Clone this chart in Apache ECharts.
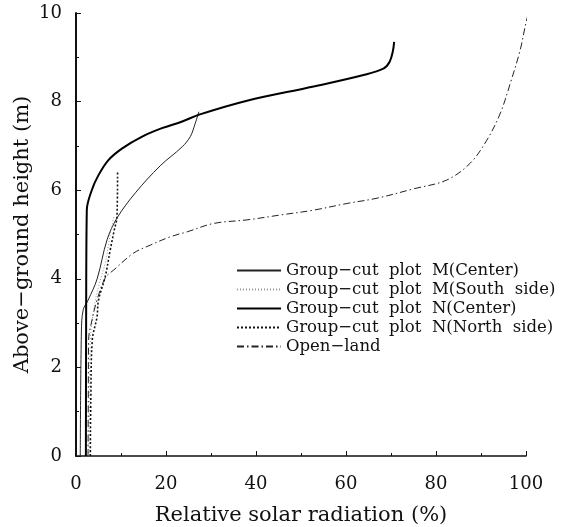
<!DOCTYPE html>
<html>
<head>
<meta charset="utf-8">
<script src="https://cdn.jsdelivr.net/npm/echarts@6/dist/echarts.min.js"></script>
<style>
  html, body { margin: 0; padding: 0; background: #fff; }
  #chart { width: 566px; height: 527px; }
</style>
</head>
<body>
<div id="chart"></div>
<script>
// Relative solar radiation (%) versus above-ground height (m), pairs of [radiation, height]
const mCenter = [
  [0.95, 0], [1.2, 2.8], [1.6, 3.3], [2.7, 3.52], [4.7, 4.0], [6.9, 4.88],
  [9.1, 5.37], [13.2, 5.94], [18.7, 6.55], [23.6, 6.98],
  [25.4, 7.21], [26.5, 7.51], [27.3, 7.77]
];
const mSouth = [
  [2.84, 0], [2.96, 1.26], [3.18, 2.62], [3.62, 3.07], [4.3, 3.52],
  [5.4, 3.97], [6.5, 4.36], [7.6, 4.99], [8.4, 5.4]
];
const nCenter = [
  [2.2, 0], [2.25, 3.0], [2.4, 5.55], [3.5, 6.0], [5.0, 6.34], [7.2, 6.68],
  [10.2, 6.94], [14.7, 7.21], [19.1, 7.4], [23.6, 7.55], [27.2, 7.7],
  [38.0, 8.02], [52.8, 8.34], [63.9, 8.6], [68.4, 8.75], [69.7, 8.9],
  [70.4, 9.13], [70.7, 9.35]
];
const nNorth = [
  [3.18, 0], [3.29, 1.26], [3.62, 2.62], [4.67, 3.14], [5.0, 3.52],
  [6.5, 4.05], [7.6, 4.65], [8.5, 5.1], [9.1, 5.4], [9.24, 6.42]
];
const openLand = [
  [2.67, 0], [2.73, 1.26], [2.8, 2.62], [3.56, 3.07], [4.67, 3.52],
  [6.5, 4.02], [8.4, 4.2], [12.8, 4.58], [16.5, 4.76], [21.0, 4.95],
  [24.7, 5.06], [30.6, 5.25], [38.0, 5.33], [45.4, 5.44], [52.8, 5.55],
  [60.2, 5.7], [66.9, 5.82], [75.0, 6.03], [82.4, 6.23], [87.6, 6.61],
  [91.3, 7.13], [94.3, 7.74], [96.5, 8.41], [98.7, 9.16], [99.8, 9.69],
  [100.5, 9.99]
];

const seriesNames = [
  'Group−cut  plot  M(Center)',
  'Group−cut  plot  M(South  side)',
  'Group−cut  plot  N(Center)',
  'Group−cut  plot  N(North  side)',
  'Open−land'
];

const serif = '"DejaVu Serif", "Liberation Serif", serif';
const ink = '#111';

function curve(name, data, style) {
  return {
    name: name,
    type: 'line',
    data: data,
    symbol: 'none',
    smooth: 0.35,
    itemStyle: { color: style.color },
    lineStyle: style,
    z: 3
  };
}

const chart = echarts.init(document.getElementById('chart'), null, { renderer: 'canvas' });
chart.setOption({
  animation: false,
  backgroundColor: '#fff',
  grid: { left: 76, right: 40, top: 13, bottom: 71, containLabel: false, outerBoundsMode: 'none' },
  legend: {
    orient: 'vertical',
    left: 231,
    top: 257,
    itemWidth: 44,
    itemHeight: 10,
    itemGap: 2,
    itemStyle: { opacity: 0 },
    textStyle: { fontFamily: serif, fontSize: 16.5, color: ink, lineHeight: 16 },
    data: seriesNames
  },
  xAxis: {
    type: 'value',
    min: 0, max: 100, interval: 20,
    offset: 12,
    name: 'Relative solar radiation (%)',
    nameLocation: 'middle',
    nameGap: 37,
    nameTextStyle: { fontFamily: serif, fontSize: 21, color: ink },
    axisLine: { show: true, lineStyle: { color: ink, width: 1.5 } },
    axisTick: { show: true, inside: true, length: 5, lineStyle: { color: ink, width: 1 } },
    minorTick: { show: true, splitNumber: 2, length: 3, lineStyle: { color: ink, width: 1 } },
    axisLabel: { margin: 7, fontFamily: serif, fontSize: 18, color: ink },
    splitLine: { show: false }
  },
  yAxis: {
    type: 'value',
    min: 0, max: 10, interval: 2,
    offset: 9,
    name: 'Above−ground height (m)',
    nameLocation: 'middle',
    nameGap: 34,
    nameMoveOverlap: false,
    nameRotate: 90,
    nameTextStyle: { fontFamily: serif, fontSize: 21, color: ink },
    axisLine: { show: true, lineStyle: { color: ink, width: 2 } },
    axisTick: { show: true, inside: true, length: 5, lineStyle: { color: ink, width: 1 } },
    minorTick: { show: true, splitNumber: 2, length: 3, lineStyle: { color: ink, width: 1 } },
    axisLabel: { margin: 5, fontFamily: serif, fontSize: 18, color: ink },
    splitLine: { show: false }
  },
  series: [
    curve(seriesNames[0], mCenter, { color: '#222', width: 1, type: 'solid' }),
    curve(seriesNames[1], mSouth, { color: '#999', width: 1, type: [1, 2] }),
    curve(seriesNames[2], nCenter, { color: '#000', width: 2, type: 'solid' }),
    curve(seriesNames[3], nNorth, { color: '#111', width: 1.6, type: [2, 2] }),
    curve(seriesNames[4], openLand, { color: '#222', width: 1, type: [7, 3, 1.5, 3] })
  ]
});
</script>
</body>
</html>
